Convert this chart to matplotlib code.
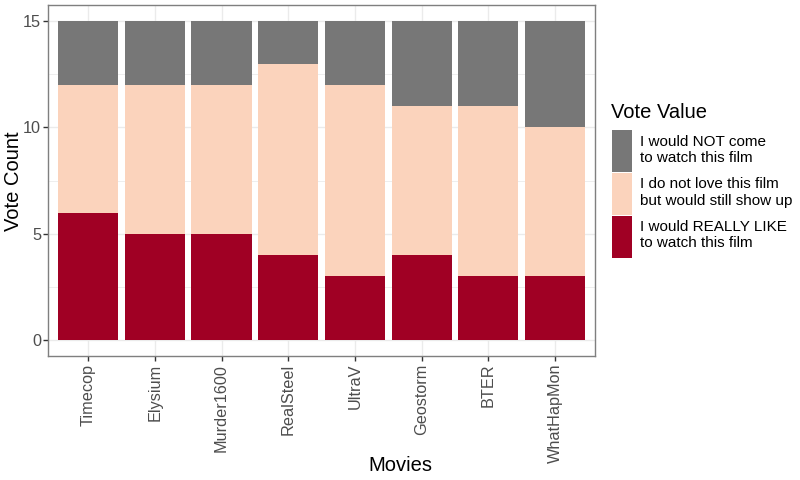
import matplotlib
matplotlib.use("Agg")
import matplotlib.pyplot as plt
import numpy as np
from matplotlib.patches import Patch
from matplotlib.ticker import MultipleLocator

plt.rcParams['font.family'] = ['Liberation Sans', 'DejaVu Sans']

movies = ["Timecop", "Elysium", "Murder1600", "RealSteel", "UltraV", "Geostorm", "BTER", "WhatHapMon"]
really_like = [6, 5, 5, 4, 3, 4, 3, 3]
not_love = [6, 7, 7, 9, 9, 7, 8, 7]
would_not = [3, 3, 3, 2, 3, 4, 4, 5]

labels = ["I would NOT come\nto watch this film",
          "I do not love this film\nbut would still show up",
          "I would REALLY LIKE\nto watch this film"]
colors = ["#777777", "#FBD3BC", "#A00024"]

fig = plt.figure(figsize=(8, 4.8), dpi=100)
ax = fig.add_axes([0.06, 0.258, 0.684, 0.7316])

x = np.arange(len(movies))
b1 = np.array(really_like)
b2 = b1 + np.array(not_love)
ax.bar(x, really_like, width=0.9, color=colors[2], zorder=3)
ax.bar(x, not_love, width=0.9, bottom=b1, color=colors[1], zorder=3)
ax.bar(x, would_not, width=0.9, bottom=b2, color=colors[0], zorder=3)

ax.set_xlim(-0.6, len(movies) - 0.4)
ax.set_ylim(-0.75, 15.75)
ax.yaxis.set_major_locator(MultipleLocator(5))
ax.yaxis.set_minor_locator(MultipleLocator(2.5))
ax.set_xticks(x)
ax.set_xticklabels(movies, rotation=90, fontsize=11.7, color="#4D4D4D")
ax.tick_params(axis='y', labelsize=11.7, labelcolor="#4D4D4D")
ax.tick_params(axis='both', which='major', length=3.5, width=1, color="#333333")
ax.tick_params(axis='y', which='major', pad=1.5)
ax.tick_params(axis='x', which='major', pad=2)
ax.tick_params(axis='y', which='minor', length=0)
ax.grid(True, which='major', color="#EBEBEB", linewidth=1, zorder=0)
ax.grid(True, which='minor', axis='y', color="#EBEBEB", linewidth=0.6, zorder=0)
ax.set_axisbelow(True)
for s in ax.spines.values():
    s.set_color("#7F7F7F")
    s.set_linewidth(1)

ax.set_xlabel("Movies", fontsize=14.5)
ax.set_ylabel("Vote Count", fontsize=14.5)
ax.xaxis.set_label_coords((400 - 48) / 547, (356 - 465) / 351)
ax.yaxis.set_label_coords((14 - 48) / 547, (356 - 181) / 351)
ax.xaxis.label.set_verticalalignment('center')
ax.yaxis.label.set_verticalalignment('center')

fig.text(611 / 800, 1 - 112 / 480, "Vote Value", fontsize=14.5, ha='left', va='center')

handles = [Patch(facecolor=c, edgecolor='none') for c in colors]
leg = fig.legend(handles, labels, loc='upper left', bbox_to_anchor=(606 / 800, 1 - 124 / 480),
                 frameon=False, fontsize=11,
                 handlelength=1.3, handleheight=3.85, labelspacing=0.05,
                 handletextpad=0.55, borderaxespad=0)

fig.savefig("out.png", dpi=100)
